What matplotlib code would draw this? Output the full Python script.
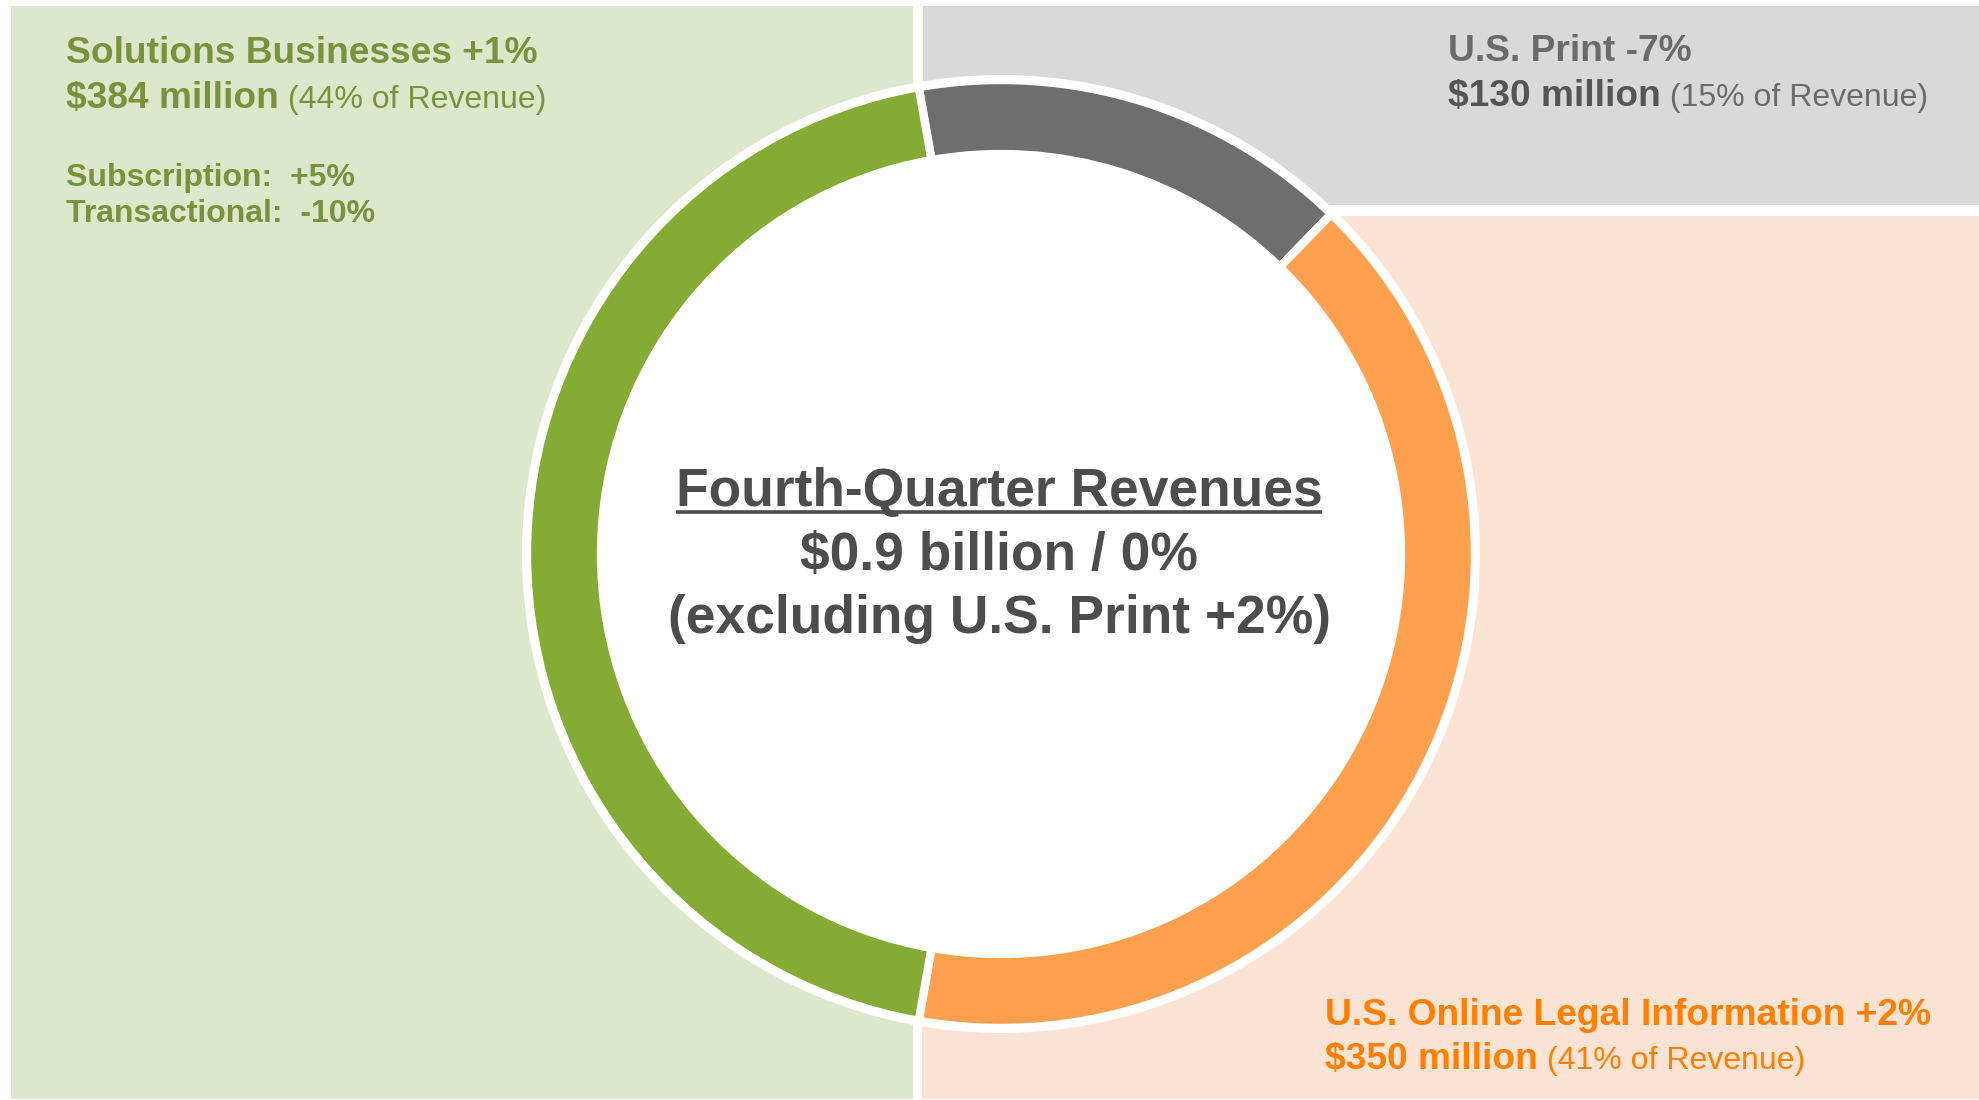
import matplotlib
matplotlib.use("Agg")
import matplotlib.pyplot as plt
from matplotlib.patches import Rectangle, Circle

W, H = 1979, 1100  # figure size in pixels (dpi 100)

# -*- data: fourth-quarter revenue by segment, clockwise from top
segments = ["U.S. Print", "U.S. Online Legal Information", "Solutions Businesses"]
revenue = [130, 350, 384]  # $ million
share = [15, 41, 44]  # % of revenue
growth = ["-7%", "+2%", "+1%"]
sub_lines = ["Subscription:  +5%", "Transactional:  -10%"]
center_lines = ["Fourth-Quarter Revenues", "$0.9 billion / 0%", "(excluding U.S. Print +2%)"]

ring_colors = ["#6e6e6e", "#ffa04f", "#84ac34"]
panel_colors = ["#d9d9d9", "#fde3d3", "#dde7cb"]
title_colors = ["#6b6b6b", "#ff8000", "#77933c"]
amount_colors = ["#555555", "#ff8000", "#77933c"]

plt.rcParams["font.family"] = ["Liberation Sans", "DejaVu Sans"]

fig = plt.figure("Q4_Revenue", figsize=(W / 100, H / 100), dpi=100)
ax = fig.add_axes([0, 0, 1, 1])


def py(y):
    # pixel row (from top) -> data y
    return H - y


# background panels (x0, top, x1, bottom) in pixels
panels = [(923, 6, 1979, 205), (922, 216, 1979, 1099), (11, 6, 913, 1099)]
for (x0, t, x1, b), c in zip(panels, panel_colors):
    ax.add_patch(Rectangle((x0, py(b)), x1 - x0, b - t, color=c, lw=0, zorder=0))

# donut
cx, cy = 1001, py(554)
ax.add_patch(Circle((cx, cy), 479, color="white", lw=0, zorder=1))
wedges, _ = ax.pie(
    revenue,
    colors=ring_colors,
    startangle=100,
    counterclock=False,
    radius=474,
    center=(cx, cy),
    wedgeprops=dict(width=74, edgecolor="white", linewidth=6),
)
for w in wedges:
    w.set_zorder(2)

ax.set_xlim(0, W)
ax.set_ylim(0, H)
ax.axis("off")

renderer = fig.canvas.get_renderer()

# segment labels: x, baseline line 1, baseline line 2
label_pos = [(1448, 61, 106), (1325, 1025, 1069), (66, 63, 108)]
for i, (x, y1, y2) in enumerate(label_pos):
    ax.text(x, py(y1), f"{segments[i]} {growth[i]}", fontsize=26.7, fontweight="bold",
            color=title_colors[i], va="baseline", ha="left")
    t = ax.text(x, py(y2), f"${revenue[i]} million", fontsize=26.7, fontweight="bold",
                color=amount_colors[i], va="baseline", ha="left")
    bb = t.get_window_extent(renderer)
    ax.text(bb.x1, py(y2), f" ({share[i]}% of Revenue)", fontsize=23,
            color=title_colors[i], va="baseline", ha="left")

for s, y in zip(sub_lines, [186, 222]):
    ax.text(66, py(y), s, fontsize=23, fontweight="bold", color=title_colors[2],
            va="baseline", ha="left")

# centre text
for s, y in zip(center_lines, [506, 570, 633]):
    t = ax.text(cx - 2, py(y), s, fontsize=38.4, fontweight="bold", color="#4d4d4d",
                va="baseline", ha="center", zorder=3)
    if s == center_lines[0]:
        bb = t.get_window_extent(renderer)
        ax.plot([bb.x0, bb.x1], [py(512), py(512)], color="#4d4d4d", lw=2.6,
                solid_capstyle="butt", zorder=3)

fig.savefig("out.png", dpi=100)
